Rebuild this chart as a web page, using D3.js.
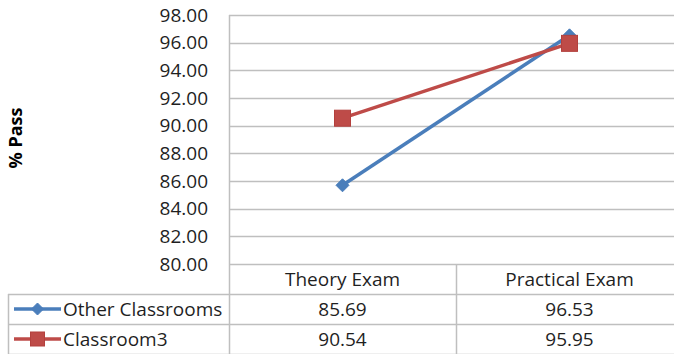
<!DOCTYPE html>
<html>
<head>
<meta charset="utf-8">
<script src="https://cdn.jsdelivr.net/npm/d3@7"></script>
<style>
  html, body { margin: 0; padding: 0; background: #fff; }
  svg { display: block; font-family: "Open Sans", "Liberation Sans", sans-serif; }
</style>
</head>
<body>
<svg id="chart" width="674" height="354"></svg>
<script>
// Pass rates by exam type
const categories = ["Theory Exam", "Practical Exam"];
const seriesNames = ["Other Classrooms", "Classroom3"];
const otherClassrooms = [85.69, 96.53];
const classroom3 = [90.54, 95.95];
const yTicks = [80, 82, 84, 86, 88, 90, 92, 94, 96, 98];
const yTitle = "% Pass";

const series = [
  { name: seriesNames[0], values: otherClassrooms, color: "#4A7EBB", shape: "diamond" },
  { name: seriesNames[1], values: classroom3, color: "#BE4B48", shape: "square" }
];

const svg = d3.select("#chart");
const plotLeft = 229, plotRight = 683, plotTop = 15, plotBottom = 264;
const rowH = 30;
const tableLeft = 8;
const gridColor = "#BFBFBF";
const textColor = "#1F1F1F";
const fs = 19;

const x = d3.scaleBand().domain(categories).range([plotLeft, plotRight]);
const y = d3.scaleLinear().domain([80, 98]).range([plotBottom, plotTop]);

// horizontal gridlines
svg.append("g").selectAll("line").data(yTicks).join("line")
  .attr("x1", plotLeft).attr("x2", plotRight)
  .attr("y1", d => Math.round(y(d)) + 0.5).attr("y2", d => Math.round(y(d)) + 0.5)
  .attr("stroke", gridColor).attr("stroke-width", 1.5);

// y axis labels
svg.append("g").selectAll("text").data(yTicks).join("text")
  .attr("x", 208).attr("y", d => y(d))
  .attr("dy", "0.35em").attr("text-anchor", "end")
  .attr("font-size", fs).attr("fill", textColor)
  .text(d => d.toFixed(2));

// y title
svg.append("text")
  .attr("transform", "translate(22,138) rotate(-90)")
  .attr("text-anchor", "middle")
  .attr("font-size", 18).attr("font-weight", "bold").attr("fill", "#000")
  .text(yTitle);

// data table grid
const tbl = svg.append("g").attr("stroke", gridColor).attr("stroke-width", 1.5).attr("fill", "none");
tbl.append("line").attr("x1", plotLeft + 0.5).attr("x2", plotLeft + 0.5).attr("y1", plotTop).attr("y2", 354);
tbl.append("line").attr("x1", x(categories[1]) + 0.5).attr("x2", x(categories[1]) + 0.5).attr("y1", plotBottom).attr("y2", 354);
tbl.append("line").attr("x1", tableLeft + 0.5).attr("x2", tableLeft + 0.5).attr("y1", plotBottom + rowH).attr("y2", 354);
[1, 2, 3].forEach(i => {
  const yy = Math.round(plotBottom + rowH * i) + 0.5;
  tbl.append("line").attr("x1", tableLeft).attr("x2", plotRight).attr("y1", yy).attr("y2", yy);
});

// category header
svg.append("g").selectAll("text").data(categories).join("text")
  .attr("x", d => x(d) + x.bandwidth() / 2).attr("y", plotBottom + rowH / 2)
  .attr("dy", "0.35em").attr("text-anchor", "middle")
  .attr("font-size", fs).attr("fill", textColor)
  .text(d => d);

function marker(g, shape, color, cx, cy, size) {
  if (shape === "diamond") {
    g.append("path")
      .attr("d", `M${cx},${cy - size}L${cx + size},${cy}L${cx},${cy + size}L${cx - size},${cy}Z`)
      .attr("fill", color).attr("stroke", color).attr("stroke-width", 1);
  } else {
    g.append("rect")
      .attr("x", cx - size).attr("y", cy - size)
      .attr("width", size * 2).attr("height", size * 2)
      .attr("fill", color).attr("stroke", "#B3403D").attr("stroke-width", 1);
  }
}

// table rows: legend key + values
series.forEach((s, i) => {
  const cy = plotBottom + rowH * (i + 1) + rowH / 2;
  const g = svg.append("g");
  g.append("line").attr("x1", 14).attr("x2", 61).attr("y1", cy).attr("y2", cy)
    .attr("stroke", s.color).attr("stroke-width", 3.5);
  marker(g, s.shape, s.color, 37.5, cy, s.shape === "diamond" ? 6 : 7);
  g.append("text").attr("x", 63).attr("y", cy).attr("dy", "0.35em")
    .attr("font-size", fs).attr("fill", textColor).text(s.name);
  g.selectAll("text.v").data(s.values).join("text").attr("class", "v")
    .attr("x", (d, j) => x(categories[j]) + x.bandwidth() / 2).attr("y", cy)
    .attr("dy", "0.35em").attr("text-anchor", "middle")
    .attr("font-size", fs).attr("fill", textColor)
    .text(d => d.toFixed(2));
});

// series lines and markers
const line = d3.line()
  .x((d, j) => x(categories[j]) + x.bandwidth() / 2)
  .y(d => y(d));

series.forEach(s => {
  svg.append("path").datum(s.values)
    .attr("d", line).attr("fill", "none")
    .attr("stroke", s.color).attr("stroke-width", 3.5).attr("stroke-linejoin", "round");
});
series.forEach(s => {
  const g = svg.append("g");
  s.values.forEach((v, j) => {
    marker(g, s.shape, s.color, x(categories[j]) + x.bandwidth() / 2, y(v), s.shape === "diamond" ? 6.5 : 8);
  });
});
</script>
</body>
</html>
